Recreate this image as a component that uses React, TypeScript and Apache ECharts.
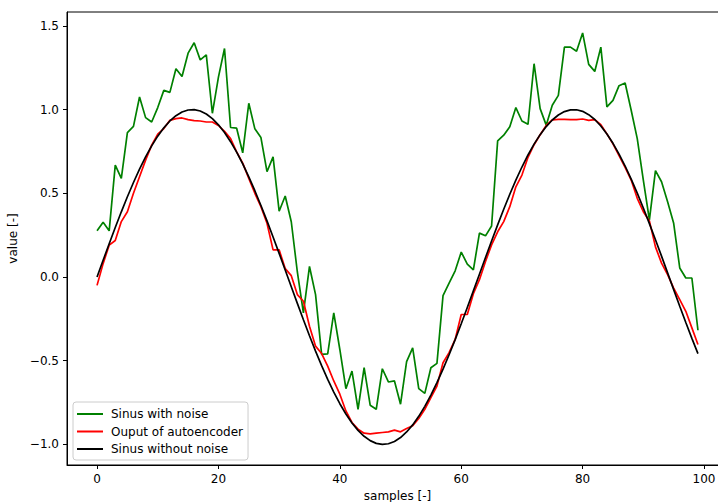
import React, { useEffect, useRef } from "react";
import * as echarts from "echarts";

const noisy = [0.276, 0.327, 0.276, 0.668, 0.589, 0.863, 0.9, 1.075, 0.952, 0.926, 1.012, 1.115, 1.103, 1.244, 1.198, 1.337, 1.399, 1.297, 1.327, 0.978, 1.194, 1.365, 0.893, 0.889, 0.742, 1.038, 0.885, 0.833, 0.629, 0.718, 0.393, 0.484, 0.33, 0.03, -0.214, 0.063, -0.105, -0.462, -0.459, -0.214, -0.433, -0.667, -0.562, -0.79, -0.542, -0.766, -0.79, -0.548, -0.627, -0.621, -0.76, -0.506, -0.423, -0.667, -0.695, -0.542, -0.516, -0.111, -0.036, 0.037, 0.149, 0.077, 0.043, 0.262, 0.246, 0.305, 0.813, 0.847, 0.897, 1.012, 0.932, 0.912, 1.274, 1.006, 0.907, 1.026, 1.085, 1.373, 1.373, 1.349, 1.458, 1.27, 1.228, 1.373, 1.016, 1.055, 1.143, 1.159, 0.996, 0.827, 0.579, 0.341, 0.635, 0.569, 0.45, 0.321, 0.054, -0.006, -0.006, -0.318];

const autoencoder = [-0.05, 0.08, 0.19, 0.218, 0.331, 0.39, 0.5, 0.599, 0.698, 0.788, 0.853, 0.887, 0.936, 0.946, 0.95, 0.94, 0.934, 0.932, 0.926, 0.926, 0.905, 0.87, 0.827, 0.748, 0.68, 0.589, 0.5, 0.42, 0.321, 0.162, 0.162, 0.05, 0.008, -0.105, -0.145, -0.294, -0.413, -0.457, -0.532, -0.621, -0.7, -0.8, -0.869, -0.909, -0.933, -0.937, -0.933, -0.929, -0.925, -0.915, -0.925, -0.905, -0.889, -0.845, -0.79, -0.72, -0.651, -0.512, -0.452, -0.373, -0.224, -0.224, -0.1, -0.016, 0.093, 0.192, 0.27, 0.331, 0.42, 0.539, 0.609, 0.715, 0.79, 0.85, 0.905, 0.938, 0.942, 0.942, 0.94, 0.94, 0.944, 0.936, 0.94, 0.91, 0.855, 0.795, 0.725, 0.655, 0.579, 0.47, 0.39, 0.335, 0.18, 0.083, 0.014, -0.066, -0.135, -0.205, -0.304, -0.403];

const clean = [0, 0.0998, 0.1987, 0.2955, 0.3894, 0.4794, 0.5646, 0.6442, 0.7174, 0.7833, 0.8415, 0.8912, 0.932, 0.9636, 0.9854, 0.9975, 0.9996, 0.9917, 0.9738, 0.9463, 0.9093, 0.8632, 0.8085, 0.7457, 0.6755, 0.5985, 0.5155, 0.4274, 0.335, 0.2392, 0.1411, 0.0416, -0.0584, -0.1577, -0.2555, -0.3508, -0.4425, -0.5298, -0.6119, -0.6878, -0.7568, -0.8183, -0.8716, -0.9162, -0.9516, -0.9775, -0.9937, -1.0, -0.9962, -0.9825, -0.9589, -0.9258, -0.8835, -0.8323, -0.7728, -0.7055, -0.6313, -0.5507, -0.4646, -0.3739, -0.2794, -0.1822, -0.0831, 0.0168, 0.1165, 0.2151, 0.3115, 0.4048, 0.4941, 0.5784, 0.657, 0.729, 0.7937, 0.8504, 0.8987, 0.938, 0.9679, 0.9882, 0.9985, 0.9989, 0.9894, 0.9699, 0.9407, 0.9022, 0.8546, 0.7985, 0.7344, 0.663, 0.5849, 0.501, 0.4121, 0.3191, 0.2229, 0.1245, 0.0248, -0.0752, -0.1743, -0.2718, -0.3665, -0.4575];

const seriesNames = ["Sinus with noise", "Ouput of autoencoder", "Sinus without noise"];
const seriesColors = ["#008000", "#ff0000", "#000000"];

const xTicks = [0, 20, 40, 60, 80, 100];
const xTickLabels = ["0", "20", "40", "60", "80", "100"];
const yTicks = [-1.0, -0.5, 0.0, 0.5, 1.0, 1.5];
const yTickLabels = ["\u22121.0", "\u22120.5", "0.0", "0.5", "1.0", "1.5"];

const FONT = "DejaVu Sans";

export default function App() {
  const ref = useRef<HTMLDivElement>(null);

  useEffect(() => {
    if (!ref.current) return;
    const chart = echarts.init(ref.current, null, { renderer: "svg" });
    const toPairs = (arr: number[]) => arr.map((v, i) => [i, v]);
    const allSeries = [noisy, autoencoder, clean];

    chart.setOption({
      animation: false,
      backgroundColor: "#ffffff",
      grid: {
        left: 67,
        top: 12,
        width: 661,
        height: 453,
        show: true,
        borderColor: "#000",
        borderWidth: 1,
        backgroundColor: "transparent",
        containLabel: false,
        outerBoundsMode: "none",
      },
      legend: {
        orient: "vertical",
        left: 73,
        top: 402,
        padding: [6, 5, 5, 4],
        itemWidth: 26,
        itemHeight: 14,
        itemGap: 5.5,
        icon: "path://M0,6H26V8H0Z",
        backgroundColor: "rgba(255,255,255,0.8)",
        borderColor: "#cccccc",
        borderWidth: 1,
        borderRadius: 3,
        textStyle: {
          fontFamily: FONT,
          fontSize: 12,
          color: "#000",
          padding: [0, 0, 0, 3],
        },
        data: seriesNames,
      },
      xAxis: {
        type: "value",
        min: -4.95,
        max: 103.95,
        name: "samples [-]",
        nameLocation: "middle",
        nameGap: 24,
        nameTextStyle: { fontFamily: FONT, fontSize: 12, color: "#000" },
        axisLine: { show: true, onZero: false, lineStyle: { color: "#000", width: 1 } },
        axisTick: {
          show: true,
          length: 4,
          lineStyle: { color: "#000", width: 1 },
          customValues: xTicks,
        },
        axisLabel: {
          fontFamily: FONT,
          fontSize: 12,
          color: "#000",
          margin: 8,
          customValues: xTicks,
          formatter: (v: number) => {
            const i = xTicks.indexOf(Math.round(v));
            return i >= 0 ? xTickLabels[i] : "";
          },
        },
        splitLine: { show: false },
      },
      yAxis: {
        type: "value",
        min: -1.123,
        max: 1.583,
        name: "value [-]",
        nameLocation: "middle",
        nameGap: 44,
        nameTextStyle: { fontFamily: FONT, fontSize: 12, color: "#000" },
        axisLine: { show: true, onZero: false, lineStyle: { color: "#000", width: 1 } },
        axisTick: {
          show: true,
          length: 4,
          lineStyle: { color: "#000", width: 1 },
          customValues: yTicks,
        },
        axisLabel: {
          fontFamily: FONT,
          fontSize: 12,
          color: "#000",
          margin: 8,
          customValues: yTicks,
          formatter: (v: number) => {
            const i = yTicks.findIndex((t) => Math.abs(t - v) < 1e-6);
            return i >= 0 ? yTickLabels[i] : "";
          },
        },
        splitLine: { show: false },
      },
      series: allSeries.map((arr, idx) => ({
        name: seriesNames[idx],
        type: "line",
        data: toPairs(arr),
        showSymbol: false,
        symbol: "none",
        smooth: false,
        color: seriesColors[idx],
        lineStyle: { color: seriesColors[idx], width: 1.7 },
        z: 2 + idx,
      })),
    });

    return () => {
      chart.dispose();
    };
  }, []);

  return (
    <div
      ref={ref}
      style={{ position: "fixed", left: 0, top: 0, width: 718, height: 502, background: "#fff" }}
    />
  );
}
